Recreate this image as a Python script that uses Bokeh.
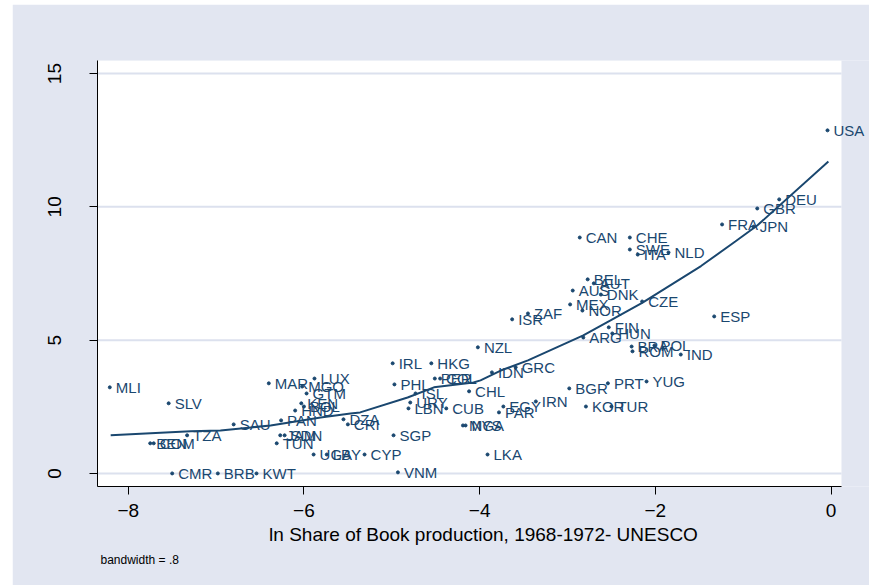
from bokeh.plotting import figure
from bokeh.models import ColumnDataSource, LabelSet, FixedTicker, Range1d, Title
from bokeh.core.properties import value
from bokeh.embed import file_html
from bokeh.resources import INLINE

# Country labels, ln share of book production (x), y values
countries = ["USA", "DEU", "GBR", "FRA", "JPN", "CAN", "CHE", "SWE", "ITA", "NLD",
             "BEL", "AUT", "AUS", "DNK", "MEX", "NOR", "CZE", "ZAF", "ISR", "ESP",
             "FIN", "HUN", "ARG", "BRA", "POL", "ROM", "IND", "NZL", "IDN", "GRC",
             "HKG", "IRL", "PER", "COL", "PHL", "ISL", "URY", "LBN", "CUB", "CHL",
             "BGR", "PRT", "YUG", "IRN", "EGY", "PAR", "KOR", "TUR", "MYS", "NGA",
             "LKA", "SGP", "DZA", "CRI", "MAR", "LUX", "MGO", "GTM", "KEN", "BOL",
             "HND", "PAN", "SAU", "JAM", "SDN", "TUN", "UGA", "LBY", "CYP", "VNM",
             "CMR", "BRB", "KWT", "MLI", "SLV", "TZA", "BEN", "COM"]
x_share = [-0.04, -0.59, -0.84, -1.24, -0.88, -2.86, -2.29, -2.29, -2.20, -1.85,
           -2.77, -2.70, -2.94, -2.62, -2.97, -2.83, -2.15, -3.45, -3.63, -1.33,
           -2.53, -2.49, -2.82, -2.27, -2.01, -2.26, -1.71, -4.02, -3.86, -3.59,
           -4.55, -4.99, -4.51, -4.45, -4.97, -4.73, -4.79, -4.81, -4.38, -4.12,
           -2.98, -2.54, -2.10, -3.36, -3.73, -3.78, -2.79, -2.50, -4.19, -4.16,
           -3.91, -4.98, -5.55, -5.50, -6.40, -5.88, -6.02, -5.97, -6.03, -6.00,
           -6.10, -6.26, -6.80, -6.27, -6.22, -6.31, -5.89, -5.74, -5.31, -4.93,
           -7.50, -6.98, -6.54, -8.21, -7.54, -7.33, -7.75, -7.71]
y_value = [12.87, 10.28, 9.94, 9.34, 9.26, 8.85, 8.85, 8.40, 8.21, 8.29,
           7.28, 7.13, 6.86, 6.71, 6.34, 6.11, 6.45, 6.00, 5.78, 5.89,
           5.48, 5.25, 5.10, 4.76, 4.80, 4.58, 4.46, 4.73, 3.79, 3.98,
           4.13, 4.13, 3.56, 3.56, 3.34, 3.00, 2.66, 2.44, 2.44, 3.08,
           3.19, 3.38, 3.45, 2.70, 2.51, 2.29, 2.51, 2.51, 1.80, 1.80,
           0.71, 1.43, 2.03, 1.84, 3.38, 3.56, 3.26, 3.00, 2.63, 2.51,
           2.36, 1.99, 1.84, 1.43, 1.43, 1.13, 0.71, 0.71, 0.71, 0.04,
           0.00, 0.00, 0.00, 3.23, 2.63, 1.43, 1.13, 1.13]

# Lowess smooth (bandwidth = .8)
lowess_x = [-8.20, -7.29, -6.95, -6.38, -5.81, -5.47, -5.36, -4.82, -4.52, -4.07,
            -3.99, -3.76, -3.45, -2.82, -2.51, -2.15, -1.48, -1.09, -0.84, -0.03]
lowess_y = [1.43, 1.58, 1.61, 1.80, 2.10, 2.25, 2.29, 2.85, 3.23, 3.41,
            3.49, 3.86, 4.24, 5.18, 5.74, 6.40, 7.78, 8.70, 9.30, 11.70]

x_ticks = [-8, -6, -4, -2, 0]
y_ticks = [0, 5, 10, 15]

NAVY = "#1A476F"
BG = "#E2E6F1"
GRID = "#DCE1EE"
FONT = "Liberation Sans"

X_LO, X_PLOT_HI, X_HI = -8.35, 0.119, 0.438
Y_LO, Y_HI = -0.49, 15.49

p = figure(width=857, height=581, output_backend="svg", toolbar_location=None,
           x_range=Range1d(X_LO, X_HI), y_range=Range1d(Y_LO, Y_HI),
           min_border_left=85, min_border_right=0, min_border_top=56,
           min_border_bottom=99)
p.margin = (4, 0, 0, 12)
p.border_fill_color = BG
p.background_fill_color = BG
p.outline_line_color = None
p.xgrid.visible = False
p.ygrid.visible = False

# white plot region and horizontal grid lines
p.quad(left=[X_LO], right=[X_PLOT_HI], bottom=[Y_LO], top=[Y_HI],
       fill_color="white", line_color=None)
p.segment(x0=[X_LO] * len(y_ticks), x1=[X_PLOT_HI] * len(y_ticks),
          y0=y_ticks, y1=y_ticks, line_color=GRID, line_width=2)

for ax in (p.xaxis[0], p.yaxis[0]):
    ax.axis_line_color = "#000000"
    ax.axis_line_width = 1
    ax.major_tick_line_color = "#000000"
    ax.major_tick_in = 0
    ax.major_tick_out = 8
    ax.minor_tick_line_color = None
    ax.major_label_text_font = FONT
    ax.major_label_text_font_size = "19px"
    ax.major_label_text_color = "#000000"

p.xaxis.bounds = (X_LO, X_PLOT_HI)
p.xaxis.ticker = FixedTicker(ticks=x_ticks)
p.yaxis.ticker = FixedTicker(ticks=y_ticks)
p.xaxis.major_label_standoff = 9
p.yaxis.major_label_standoff = 28
p.yaxis.major_label_orientation = "vertical"

p.xaxis.axis_label = "ln Share of Book production, 1968-1972- UNESCO"
p.xaxis.axis_label_text_font = FONT
p.xaxis.axis_label_text_font_size = "19px"
p.xaxis.axis_label_text_font_style = "normal"
p.xaxis.axis_label_text_color = "#000000"
p.xaxis.axis_label_standoff = 4

note = Title(text="bandwidth = .8", align="left", text_font=FONT,
             text_font_size="12px", text_font_style="normal",
             text_color="#000000", offset=3, standoff=6)
p.add_layout(note, "below")

src = ColumnDataSource(data=dict(x=x_share, y=y_value, name=countries))
p.scatter("x", "y", source=src, size=3, color=NAVY, marker="circle")

labels = LabelSet(x="x", y="y", text="name", source=src, x_offset=6,
                  text_baseline="middle", text_align="left",
                  text_font=value(FONT), text_font_size="15px",
                  text_color=NAVY)
p.add_layout(labels)

p.line(lowess_x, lowess_y, line_color=NAVY, line_width=2)

open("out.html", "w").write(file_html(p, INLINE))
